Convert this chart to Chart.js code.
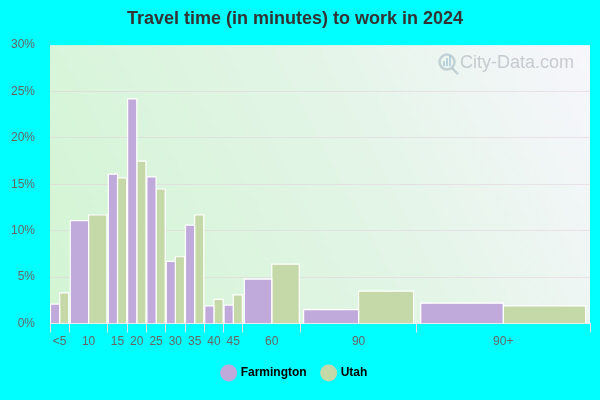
<!DOCTYPE html>
<html>
<head>
<meta charset="utf-8">
<script src="https://cdn.jsdelivr.net/npm/chart.js@4.4.1/dist/chart.umd.min.js"></script>
<style>
  html, body { margin: 0; padding: 0; background: #00ffff; }
</style>
</head>
<body>
<canvas id="travelChart" width="600" height="400"></canvas>
<script>
// bins of the histogram, span = how many 5-minute units the bin covers on the axis
const categories = ['<5', '10', '15', '20', '25', '30', '35', '40', '45', '60', '90', '90+'];
const binSpans = [1, 2, 1, 1, 1, 1, 1, 1, 1, 3, 6, 9];
const farmington = [2.1, 11.1, 16.1, 24.2, 15.8, 6.7, 10.6, 1.9, 2.0, 4.8, 1.5, 2.2];
const utah = [3.3, 11.7, 15.7, 17.5, 14.5, 7.2, 11.7, 2.6, 3.1, 6.4, 3.5, 1.9];
const yTicks = [0, 5, 10, 15, 20, 25, 30];

const series = [
    { name: 'Farmington', values: farmington, color: '#c0a9db' },
    { name: 'Utah', values: utah, color: '#c5d9a8' }
];

// bin edges along the x axis
const edges = [0];
binSpans.forEach(s => edges.push(edges[edges.length - 1] + s));
const centers = binSpans.map((s, i) => edges[i] + s / 2);
const key = v => v.toFixed(3);
const centerLabel = new Map(centers.map((c, i) => [key(c), categories[i]]));
const edgeSet = new Set(edges.map(key));

// every bar is a small closed line dataset (the bins have different widths)
const datasets = [];
series.forEach((s, si) => {
    s.values.forEach((v, i) => {
        const inner = binSpans[i] * 0.95;
        const half = inner / 2;
        const x0 = edges[i] + (binSpans[i] - inner) / 2 + si * half;
        const x1 = x0 + half;
        datasets.push({
            label: s.name,
            data: [{ x: x0, y: 0 }, { x: x0, y: v }, { x: x1, y: v }, { x: x1, y: 0 }],
            backgroundColor: s.color,
            borderColor: '#ffffff',
            borderWidth: 1.2,
            fill: 'origin',
            pointRadius: 0,
            pointHoverRadius: 0,
            tension: 0
        });
    });
});

const plotBackground = {
    id: 'plotBackground',
    beforeDraw(chart) {
        const { ctx, chartArea: a } = chart;
        const g = ctx.createLinearGradient(a.left, a.bottom, a.right, a.top);
        g.addColorStop(0, '#d2f5d3');
        g.addColorStop(0.55, '#e2f5e6');
        g.addColorStop(1, '#f7f6fc');
        ctx.save();
        ctx.fillStyle = g;
        ctx.fillRect(a.left, a.top, a.right - a.left, a.bottom - a.top);
        ctx.restore();
    },
    beforeDatasetsDraw(chart) {
        // faint watermark in the corner
        const { ctx, chartArea: a } = chart;
        ctx.save();
        ctx.globalAlpha = 0.55;
        ctx.strokeStyle = '#9fb3bd';
        ctx.lineWidth = 2.5;
        ctx.beginPath();
        ctx.arc(a.right - 143, a.top + 17, 7.5, 0, Math.PI * 2);
        ctx.stroke();
        ctx.beginPath();
        ctx.moveTo(a.right - 138, a.top + 23);
        ctx.lineTo(a.right - 132, a.top + 29);
        ctx.stroke();
        ctx.fillStyle = '#8fb4c8';
        ctx.fillRect(a.right - 147, a.top + 16, 2, 5);
        ctx.fillRect(a.right - 144, a.top + 13, 2, 8);
        ctx.fillRect(a.right - 141, a.top + 11, 2, 10);
        ctx.fillStyle = '#a2a8ae';
        ctx.font = '18px Arial, "Liberation Sans", sans-serif';
        ctx.textBaseline = 'middle';
        ctx.fillText('City-Data.com', a.right - 130, a.top + 18);
        ctx.restore();
    }
};

Chart.defaults.font.family = 'Arial, "Liberation Sans", sans-serif';

new Chart(document.getElementById('travelChart').getContext('2d'), {
    type: 'line',
    data: { datasets: datasets },
    plugins: [plotBackground],
    options: {
        responsive: false,
        animation: false,
        layout: { padding: { left: 0, right: 10, bottom: 11 } },
        plugins: {
            title: {
                display: true,
                text: 'Travel time (in minutes) to work in 2024',
                color: '#333333',
                font: { size: 18, weight: 'bold' },
                padding: { top: 8, bottom: 15.5 }
            },
            legend: {
                position: 'bottom',
                labels: {
                    usePointStyle: true,
                    boxWidth: 13,
                    boxHeight: 12,
                    padding: 16,
                    color: '#333333',
                    font: { size: 12, weight: 'bold' },
                    generateLabels: () => series.map((s, i) => ({
                        text: s.name,
                        fillStyle: s.color,
                        strokeStyle: s.color,
                        lineWidth: 0,
                        pointStyle: 'circle',
                        hidden: false,
                        datasetIndex: i * categories.length
                    }))
                },
                onClick: () => {}
            },
            tooltip: { enabled: false }
        },
        scales: {
            x: {
                type: 'linear',
                min: 0,
                max: edges[edges.length - 1],
                afterBuildTicks: scale => {
                    const vals = [...edges, ...centers].sort((a, b) => a - b);
                    scale.ticks = vals.map(v => ({ value: v }));
                },
                ticks: {
                    autoSkip: false,
                    maxRotation: 0,
                    padding: 2,
                    color: '#666666',
                    font: { size: 12 },
                    callback: value => centerLabel.get(key(value)) || ''
                },
                grid: {
                    drawOnChartArea: false,
                    drawTicks: true,
                    tickLength: 9,
                    tickColor: ctx => edgeSet.has(key(ctx.tick.value)) ? '#eadcea' : 'rgba(0,0,0,0)'
                },
                border: { display: true, color: '#f4eef4', width: 1 }
            },
            y: {
                min: 0,
                max: 30,
                afterBuildTicks: scale => {
                    scale.ticks = yTicks.map(v => ({ value: v }));
                },
                afterFit: scale => { scale.width = 50; },
                ticks: {
                    padding: 15,
                    color: '#666666',
                    font: { size: 12 },
                    callback: v => v + '%'
                },
                grid: {
                    drawTicks: false,
                    color: ctx => ctx.tick.value === 0 || ctx.tick.value === 30 ? 'rgba(0,0,0,0)' : 'rgba(228,208,220,0.55)'
                },
                border: { display: false }
            }
        }
    }
});
</script>
</body>
</html>
